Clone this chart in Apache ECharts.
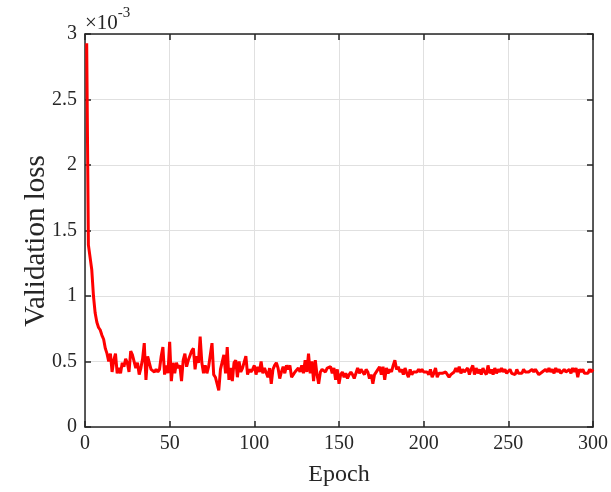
<!DOCTYPE html>
<html>
<head>
<meta charset="utf-8">
<script src="https://cdn.jsdelivr.net/npm/echarts@6/dist/echarts.min.js"></script>
<style>
html,body{margin:0;padding:0;background:#fff;}
#chart{width:611px;height:492px;}
</style>
</head>
<body>
<div id="chart"></div>
<script>
// Validation loss values in units of 1e-3, epochs 1..300
const lossValues = [
2.93,1.39,1.38,1.2,1.0,0.87,0.80,0.76,0.74,0.70,
0.67,0.60,0.56,0.50,0.56,0.42,0.51,0.56,0.41,0.45,
0.41,0.49,0.46,0.52,0.49,0.42,0.58,0.55,0.56,0.45,
0.49,0.40,0.45,0.52,0.64,0.36,0.54,0.55,0.44,0.45,
0.42,0.44,0.42,0.44,0.54,0.61,0.40,0.47,0.41,0.65,
0.35,0.49,0.41,0.49,0.45,0.47,0.35,0.51,0.56,0.46,
0.51,0.51,0.58,0.60,0.44,0.54,0.49,0.69,0.49,0.41,
0.47,0.41,0.46,0.47,0.64,0.40,0.38,0.37,0.28,0.44,
0.45,0.55,0.41,0.61,0.36,0.45,0.35,0.49,0.51,0.38,
0.50,0.42,0.45,0.44,0.54,0.40,0.44,0.42,0.44,0.47,
0.40,0.46,0.42,0.50,0.41,0.45,0.44,0.38,0.45,0.33,
0.44,0.47,0.49,0.45,0.37,0.42,0.46,0.41,0.47,0.44,
0.47,0.38,0.40,0.42,0.41,0.45,0.42,0.47,0.41,0.51,
0.42,0.56,0.41,0.50,0.35,0.51,0.40,0.33,0.42,0.44,
0.45,0.42,0.45,0.44,0.46,0.41,0.45,0.36,0.44,0.33,
0.40,0.42,0.38,0.41,0.37,0.40,0.42,0.40,0.37,0.41,
0.45,0.41,0.44,0.42,0.40,0.44,0.42,0.37,0.40,0.33,
0.40,0.41,0.44,0.46,0.40,0.46,0.36,0.45,0.41,0.44,
0.42,0.47,0.51,0.44,0.46,0.42,0.44,0.40,0.45,0.41,
0.38,0.44,0.40,0.42,0.41,0.42,0.44,0.42,0.44,0.42,
0.41,0.42,0.40,0.44,0.38,0.41,0.45,0.38,0.41,0.40,
0.41,0.40,0.42,0.40,0.38,0.40,0.41,0.42,0.45,0.42,
0.46,0.41,0.44,0.42,0.41,0.45,0.40,0.44,0.47,0.40,
0.45,0.41,0.44,0.40,0.45,0.42,0.40,0.47,0.41,0.44,
0.40,0.45,0.41,0.44,0.42,0.45,0.42,0.44,0.41,0.42,
0.44,0.41,0.42,0.40,0.44,0.41,0.42,0.41,0.44,0.42,
0.41,0.42,0.42,0.44,0.42,0.44,0.45,0.40,0.41,0.42,
0.41,0.44,0.42,0.45,0.42,0.44,0.41,0.45,0.42,0.44,
0.41,0.42,0.44,0.42,0.41,0.44,0.41,0.45,0.42,0.45,
0.38,0.44,0.42,0.44,0.41,0.42,0.41,0.44,0.42,0.44
];
const firstEpoch = 1;
const xTicks = [0, 50, 100, 150, 200, 250, 300];
const yTicks = [0, 0.5, 1, 1.5, 2, 2.5, 3];
const xLabel = 'Epoch';
const yLabel = 'Validation loss';

const seriesData = lossValues.map((v, i) => [firstEpoch + i, v]);

const FONT = 'Liberation Serif, Times New Roman, serif';
const AX = '#262626';
const GRID = '#e0e0e0';

const chart = echarts.init(document.getElementById('chart'), null, {renderer: 'canvas'});
const fmtY = v => (yTicks.includes(v) ? String(v) : '');

const tickStyle = {show: true, inside: true, length: 6, lineStyle: {color: AX, width: 1.5}};
const lineStyleAx = {show: true, onZero: false, lineStyle: {color: AX, width: 1.5}};

chart.setOption({
  animation: false,
  backgroundColor: '#ffffff',
  grid: {left: 85, right: 18, top: 34, bottom: 65, containLabel: false},
  graphic: [{
    type: 'text',
    left: 85, top: 6,
    style: {
      text: '{a|×10}{b|-3}',
      rich: {
        a: {fontFamily: FONT, fontSize: 21, fill: AX, verticalAlign: 'bottom', padding: [7,0,0,0]},
        b: {fontFamily: FONT, fontSize: 15, fill: AX, verticalAlign: 'top', padding: [0,0,9,0]}
      }
    }
  }, {
    type: 'text',
    x: 36, y: 241,
    rotation: Math.PI / 2,
    style: {
      text: yLabel,
      fontFamily: FONT, fontSize: 29, fill: AX,
      align: 'center', verticalAlign: 'middle'
    }
  }],
  xAxis: [{
    type: 'value', min: xTicks[0], max: xTicks[xTicks.length-1], interval: 50,
    position: 'bottom',
    name: xLabel, nameLocation: 'middle', nameGap: 36,
    nameTextStyle: {fontFamily: FONT, fontSize: 24, color: AX},
    axisLine: lineStyleAx,
    axisTick: tickStyle,
    axisLabel: {fontFamily: FONT, fontSize: 20, color: AX, margin: 7},
    splitLine: {show: true, lineStyle: {color: GRID, width: 1}}
  }, {
    type: 'value', min: xTicks[0], max: xTicks[xTicks.length-1], interval: 50,
    position: 'top',
    axisLine: lineStyleAx,
    axisTick: tickStyle,
    axisLabel: {show: false},
    splitLine: {show: false}
  }],
  yAxis: [{
    type: 'value', min: yTicks[0], max: yTicks[yTicks.length-1], interval: 0.5,
    position: 'left',
    axisLine: lineStyleAx,
    axisTick: tickStyle,
    axisLabel: {fontFamily: FONT, fontSize: 20, color: AX, margin: 8, formatter: fmtY},
    splitLine: {show: true, lineStyle: {color: GRID, width: 1}}
  }, {
    type: 'value', min: yTicks[0], max: yTicks[yTicks.length-1], interval: 0.5,
    position: 'right',
    axisLine: lineStyleAx,
    axisTick: tickStyle,
    axisLabel: {show: false},
    splitLine: {show: false}
  }],
  series: [{
    type: 'line',
    xAxisIndex: 0, yAxisIndex: 0,
    data: seriesData,
    showSymbol: false,
    symbol: 'none',
    lineStyle: {color: '#ff0000', width: 3},
    z: 3
  }]
});
</script>
</body>
</html>
